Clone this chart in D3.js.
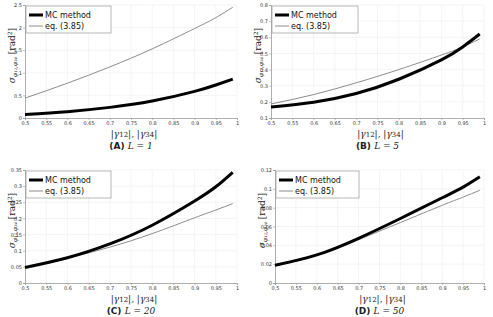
<!DOCTYPE html>
<html>
<head>
<meta charset="utf-8">
<script src="https://cdn.jsdelivr.net/npm/d3@7"></script>
<style>
body { margin: 0; background: #fff; }
svg { display: block; }
.tick text { font-family: "DejaVu Sans", sans-serif; font-size: 5px; fill: #333; }
.leg { font-family: "DejaVu Sans", sans-serif; font-size: 8px; fill: #111; }
.math { font-family: "DejaVu Serif", serif; font-style: italic; fill: #222; }
.cap { font-family: "DejaVu Sans", sans-serif; font-weight: bold; font-size: 9px; fill: #222; }
</style>
</head>
<body>
<script>
// data
var gammas = [0.5, 0.6, 0.7, 0.8, 0.9, 0.95, 0.99];
var xTicks = [0.5, 0.55, 0.6, 0.65, 0.7, 0.75, 0.8, 0.85, 0.9, 0.95, 1];

var mcA = [0.075, 0.14, 0.235, 0.375, 0.59, 0.73, 0.86];
var eqA = [0.44, 0.77, 1.13, 1.53, 1.98, 2.22, 2.45];
var mcB = [0.168, 0.198, 0.252, 0.34, 0.46, 0.54, 0.62];
var eqB = [0.187, 0.245, 0.318, 0.4, 0.49, 0.54, 0.59];
var mcC = [0.048, 0.078, 0.121, 0.179, 0.254, 0.298, 0.343];
var eqC = [0.048, 0.077, 0.111, 0.153, 0.202, 0.226, 0.246];
var mcD = [0.0188, 0.0298, 0.0475, 0.0685, 0.0905, 0.1018, 0.1128];
var eqD = [0.0188, 0.0292, 0.046, 0.0642, 0.0825, 0.0912, 0.0985];

var yTicksA = [0, 0.5, 1, 1.5, 2, 2.5];
var yTicksB = [0.1, 0.2, 0.3, 0.4, 0.5, 0.6, 0.7, 0.8];
var yTicksC = [0, 0.05, 0.1, 0.15, 0.2, 0.25, 0.3, 0.35];
var yTicksD = [0, 0.02, 0.04, 0.06, 0.08, 0.1, 0.12];

var letters = ['A', 'B', 'C', 'D'];
var Ls = [1, 5, 20, 50];
var seriesNames = ['MC method', 'eq. (3.85)'];

/**************************************/

var width = 493, height = 317;

var svg = d3.select('body').append('svg')
    .attr('width', width)
    .attr('height', height);

var panels = [
    {l: 25,  r: 237, t: 5,   b: 118, yt: yTicksA, mc: mcA, eq: eqA, legW: 85},
    {l: 271, r: 484, t: 5,   b: 118, yt: yTicksB, mc: mcB, eq: eqB, legW: 86},
    {l: 25,  r: 237, t: 170, b: 283, yt: yTicksC, mc: mcC, eq: eqC, legW: 85},
    {l: 275, r: 484, t: 170, b: 283, yt: yTicksD, mc: mcD, eq: eqD, legW: 83}
];

function fmt(v) { return String(+v.toFixed(2)); }

panels.forEach(function(p, i) {
    var x = d3.scaleLinear().domain([0.5, 1]).range([p.l, p.r]);
    var y = d3.scaleLinear().domain(d3.extent(p.yt)).range([p.b, p.t]);
    var g = svg.append('g');

    // grid
    g.append('g').selectAll('line').data(xTicks.slice(1)).enter().append('line')
        .attr('x1', function(d) { return x(d); }).attr('x2', function(d) { return x(d); })
        .attr('y1', p.t).attr('y2', p.b)
        .attr('stroke', '#ececec').attr('stroke-width', 0.6);
    g.append('g').selectAll('line').data(p.yt.slice(1)).enter().append('line')
        .attr('x1', p.l).attr('x2', p.r)
        .attr('y1', function(d) { return y(d); }).attr('y2', function(d) { return y(d); })
        .attr('stroke', '#ececec').attr('stroke-width', 0.6);

    // axes
    var xa = g.append('g').attr('transform', 'translate(0,' + p.b + ')')
        .call(d3.axisBottom(x).tickValues(xTicks).tickFormat(fmt).tickSize(2).tickPadding(1));
    var ya = g.append('g').attr('transform', 'translate(' + p.l + ',0)')
        .call(d3.axisLeft(y).tickValues(p.yt).tickFormat(fmt).tickSize(2).tickPadding(1));
    [xa, ya].forEach(function(a) {
        a.select('.domain').attr('stroke', '#999').attr('stroke-width', 0.8);
        a.selectAll('.tick line').attr('stroke', '#999').attr('stroke-width', 0.6);
    });

    // lines
    var line = d3.line().curve(d3.curveNatural)
        .x(function(d, k) { return x(gammas[k]); })
        .y(function(d) { return y(d); });
    g.append('path').datum(p.eq).attr('d', line)
        .attr('fill', 'none').attr('stroke', '#8c8c8c').attr('stroke-width', 1);
    g.append('path').datum(p.mc).attr('d', line)
        .attr('fill', 'none').attr('stroke', '#000').attr('stroke-width', 3);

    // legend
    var lg = g.append('g').attr('transform', 'translate(' + (p.l + 1) + ',' + (p.t + 1) + ')');
    lg.append('rect').attr('width', p.legW).attr('height', 27)
        .attr('fill', '#fff').attr('stroke', '#999').attr('stroke-width', 0.7);
    lg.append('line').attr('x1', 3).attr('x2', 17).attr('y1', 9).attr('y2', 9)
        .attr('stroke', '#000').attr('stroke-width', 3);
    lg.append('line').attr('x1', 3).attr('x2', 17).attr('y1', 20).attr('y2', 20)
        .attr('stroke', '#8c8c8c').attr('stroke-width', 1);
    lg.append('text').attr('class', 'leg').attr('x', 19).attr('y', 12).text(seriesNames[0]);
    lg.append('text').attr('class', 'leg').attr('x', 19).attr('y', 23).text(seriesNames[1]);

    // x label
    var cx = (p.l + p.r) / 2;
    var xl = g.append('text').attr('class', 'math').attr('x', cx + 3).attr('y', p.b + 19)
        .attr('text-anchor', 'middle').attr('font-size', 9);
    xl.append('tspan').text('|γ');
    xl.append('tspan').attr('font-size', 7).attr('font-style', 'normal').text('12');
    xl.append('tspan').text('|, |γ');
    xl.append('tspan').attr('font-size', 7).attr('font-style', 'normal').text('34');
    xl.append('tspan').text('|');

    // caption
    var cap = g.append('text').attr('x', cx).attr('y', p.b + 31).attr('text-anchor', 'middle');
    cap.append('tspan').attr('class', 'cap').text('(' + letters[i] + ') ');
    cap.append('tspan').attr('class', 'math').attr('font-size', 9).text('L');
    cap.append('tspan').attr('class', 'math').attr('font-style', 'normal').attr('font-size', 9).text(' = ' + Ls[i]);

    // y label
    var yl = g.append('text').attr('class', 'math')
        .attr('transform', 'translate(' + (p.l - 10) + ',' + ((p.t + p.b) / 2 - 6) + ') rotate(-90)')
        .attr('text-anchor', 'middle').attr('font-size', 9);
    yl.append('tspan').text('σ');
    yl.append('tspan').attr('font-size', 6).attr('dy', 2).text('φ₁₂,φ₃₄');
    yl.append('tspan').attr('font-style', 'normal').attr('dy', -2).text('  [rad');
    yl.append('tspan').attr('font-style', 'normal').attr('font-size', 6).attr('dy', -3).text('2');
    yl.append('tspan').attr('font-style', 'normal').attr('dy', 3).text(']');
});
</script>
</body>
</html>
